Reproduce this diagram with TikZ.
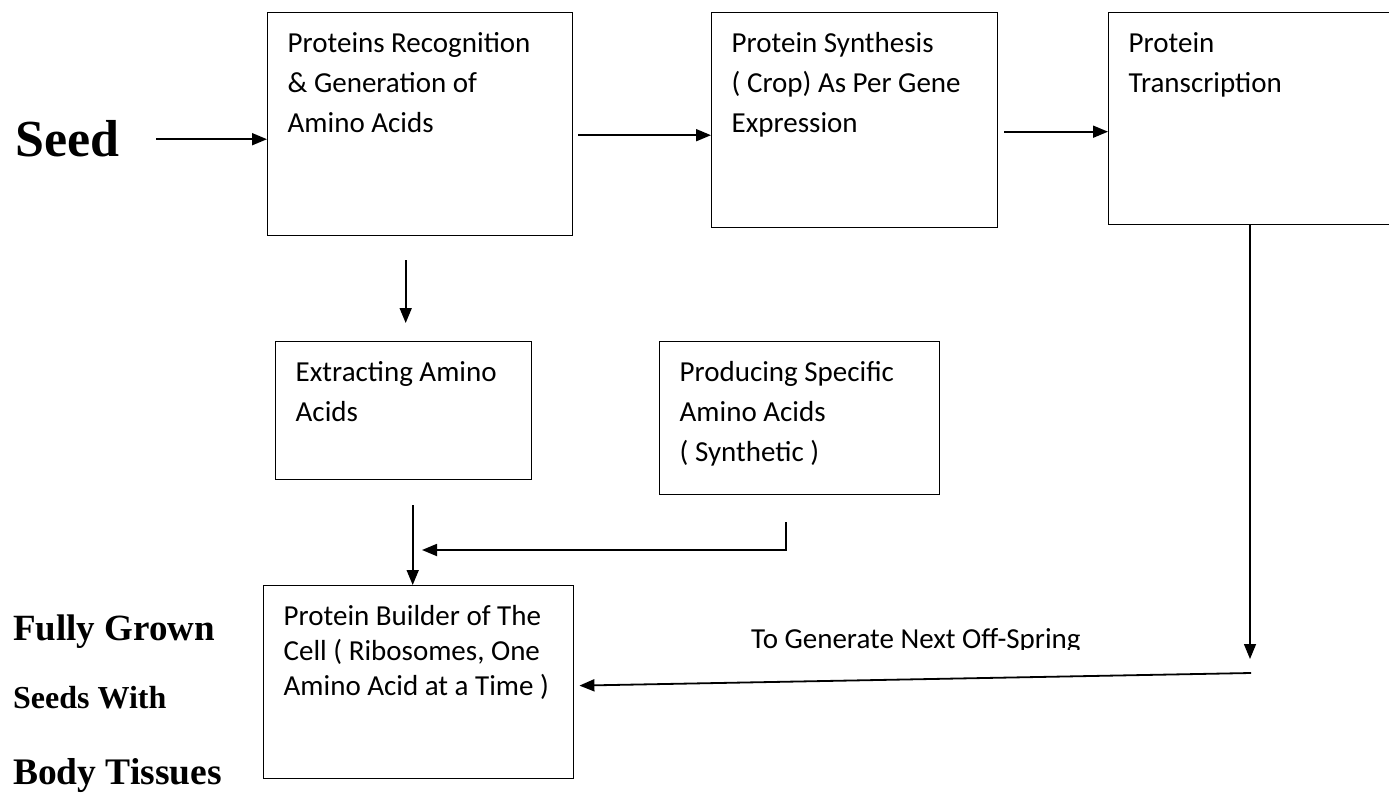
\documentclass[tikz,border=0pt]{standalone}
\usepackage{fontspec}
\setmainfont{Liberation Serif}
\newfontfamily\calibri{Carlito}
\usetikzlibrary{arrows.meta}
\begin{document}
\begin{tikzpicture}[
        x=1pt, y=-1pt,
        box/.style 2 args={draw, line width=1.4pt, anchor=north west, align=flush left,
            inner xsep=20pt, inner ysep=0pt, text width=#1, text height=40pt, text depth=#2,
            font=\calibri\fontsize{29}{40}\selectfont},
        side/.style={anchor=base west, inner sep=0pt},
        arr/.style={line width=1.8pt, -{Stealth[length=15pt, width=12pt, inset=0pt]}}
    ]
        \useasboundingbox (0,0) rectangle (1389,794);

        % Process boxes
        \node[box={265pt}{183pt}] (rec) at (267,12) {Proteins Recognition\\\& Generation of\\Amino Acids};
        \node[box={246pt}{175pt}] (syn) at (711,12) {Protein Synthesis\\( Crop) As Per Gene\\Expression};
        \node[box={260pt}{172pt}] (tra) at (1108,12) {Protein\\Transcription};
        \node[box={216pt}{98pt}] (ext) at (275,341) {Extracting Amino\\Acids};
        \node[box={240pt}{113pt}] (pro) at (659,341) {Producing Specific\\Amino Acids\\( Synthetic )};
        \node[box={270pt}{153pt}, font=\calibri\fontsize{29}{35}\selectfont] (bld) at (263,585)
            {Protein Builder of The\\Cell ( Ribosomes, One\\\mbox{Amino Acid at a Time )}};

        % Side labels
        \node[side, font=\bfseries\fontsize{52}{60}\selectfont] (seed) at (15,157) {Seed};
        \node[side, font=\bfseries\fontsize{37}{42}\selectfont] (grown) at (13,640) {Fully Grown};
        \node[side, font=\bfseries\fontsize{32}{38}\selectfont] (with) at (13,708) {Seeds With};
        \node[side, font=\bfseries\fontsize{37.5}{43}\selectfont] (tissues) at (13,784) {Body Tissues};

        % Free ends
        \coordinate (join) at (422,550);
        \coordinate (drop) at (1250,659);
        \coordinate (back) at (1251,673);

        % Arrows
        \draw[arr, shorten <=37pt] (seed.east) -- (seed.east -| rec.west);
        \draw[arr, shorten <=5pt] ([yshift=-11pt]rec.east) -- ([yshift=-11pt]rec.east -| syn.west);
        \draw[arr, shorten <=6pt] ([yshift=-11.5pt]syn.east) -- ([yshift=-11.5pt]syn.east -| tra.west);
        \draw[arr, shorten <=24pt, shorten >=18pt] ([xshift=2pt]rec.south -| ext.north) -- ([xshift=2pt]ext.north);
        \draw[arr, shorten <=25pt] ([xshift=9pt]ext.south) -- ([xshift=9pt]ext.south |- bld.north);
        \draw[arr, shorten <=27pt] ([xshift=-14pt]pro.south) |- (join);
        \draw[arr, line width=1.4pt] (drop |- tra.south) -- (drop);
        \draw[arr, shorten >=5pt] (back) -- ([yshift=-3.5pt]bld.east);

        % Label cut off at its lower edge
        \begin{scope}
            \clip (700,600) rectangle (1150,649);
            \node[side, font=\calibri\fontsize{29}{40}\selectfont] (offspring) at (751,648) {To Generate Next Off-Spring};
        \end{scope}
    \end{tikzpicture}
\end{document}
